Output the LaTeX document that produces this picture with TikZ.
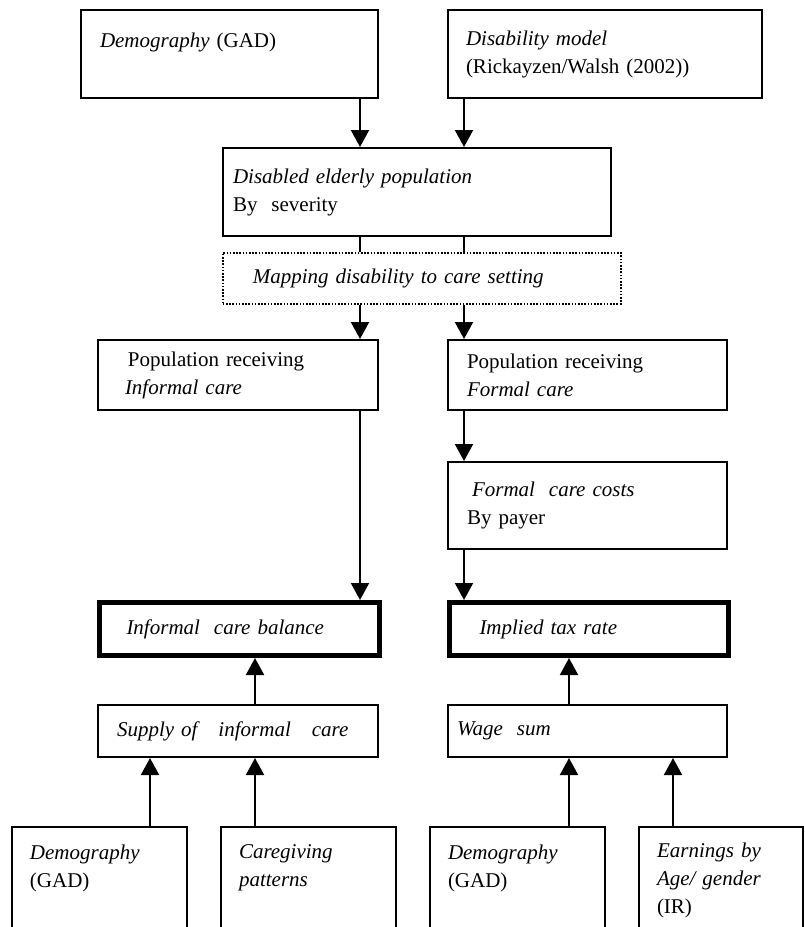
\documentclass[tikz,border=0pt]{standalone}
\usepackage{fontspec}
\setmainfont{Liberation Serif}
\usepackage{tikz}
\usetikzlibrary{positioning,calc,arrows.meta}

\begin{document}
\begin{tikzpicture}[x=0.5pt, y=-0.5pt,
        box/.style={rectangle, draw, line width=1pt, align=left, anchor=north west, inner ysep=0pt,
            font=\fontsize{10.5}{14}\selectfont},
        result/.style={box, line width=2.5pt},
        mapbox/.style={box, line width=0.8pt, dash pattern=on 0.8pt off 0.8pt},
        line/.style={draw, line width=1pt, -{Triangle[length=8.5pt, width=9pt]}},
        link/.style={draw, line width=1pt}]
        \useasboundingbox (0,0) rectangle (804,927);
        \clip (0,0) rectangle (804,927);

        % columns of the connectors
        \coordinate (cL) at (360,0);
        \coordinate (cR) at (464,0);
        \coordinate (cS) at (255,0);
        \coordinate (cW) at (569,0);
        \coordinate (cA) at (150,0);
        \coordinate (cB) at (673,0);

        \node [box, text width=129.5pt, inner xsep=9.5pt, minimum height=44pt] (demogA) at (80,9)
            {\textit{Demography} (GAD)\\ \mbox{}};
        \node [box, text width=139pt, inner xsep=9pt, minimum height=44pt] (disab) at (447,9)
            {\textit{Disability model}\\(Rickayzen/Walsh (2002))};
        \node [box, text width=184pt, inner xsep=5pt, minimum height=44pt] (disabled) at (222,147)
            {\textit{Disabled elderly population}\\By\ \ severity};
        \node [mapbox, text width=169pt, inner xsep=15pt, minimum height=25.5pt] (mapping) at (222,252)
            {\textit{Mapping disability to care setting}};
        \node [box, text width=113pt, inner xsep=13.5pt, minimum height=35pt] (popInf) at (97,339)
            {\hspace{1.5pt}Population receiving\\\textit{Informal care}};
        \node [box, text width=120.5pt, inner xsep=9.5pt, minimum height=35pt] (popFor) at (447,339)
            {Population receiving\\\textit{Formal care}};
        \node [box, text width=120.5pt, inner xsep=9.5pt, minimum height=43.5pt] (costs) at (447,461)
            {\hspace{2.5pt}\textit{Formal\ \ care costs}\\By payer};
        \node [result, text width=113pt, inner xsep=13.5pt, minimum height=26.5pt] (balInf) at (97,600)
            {\textit{Informal\ \ care balance}};
        \node [result, text width=109.5pt, inner xsep=15pt, minimum height=26.5pt] (balFor) at (447,600)
            {\textit{Implied tax rate}};
        \node [box, text width=121pt, inner xsep=9.5pt, minimum height=26pt] (supply) at (97,704)
            {\textit{Supply of\ \ \ informal\ \ \ care}};
        \node [box, text width=130.5pt, inner xsep=4.5pt, minimum height=26pt] (wage) at (447,704)
            {\textit{Wage\ \ sum}};
        \node [box, text width=69.5pt, inner xsep=9pt, minimum height=53pt] (demogB) at (11,826)
            {\textit{Demography}\\(GAD)\\ \mbox{}};
        \node [box, text width=69.5pt, inner xsep=9pt, minimum height=53pt] (careg) at (220,826)
            {\textit{Caregiving}\\\textit{patterns}\\ \mbox{}};
        \node [box, text width=69.5pt, inner xsep=9pt, minimum height=53pt] (demogC) at (429,826)
            {\textit{Demography}\\(GAD)\\ \mbox{}};
        \node [box, text width=64pt, inner xsep=9pt, minimum height=53pt] (earn) at (638,826)
            {\textit{Earnings by}\\\textit{Age/ gender}\\(IR)};

        \path [line] (demogA.south -| cL) -- (disabled.north -| cL);
        \path [line] (disab.south -| cR) -- (disabled.north -| cR);
        \path [link] (disabled.south -| cL) -- (mapping.north -| cL);
        \path [link] (disabled.south -| cR) -- (mapping.north -| cR);
        \path [line] (mapping.south -| cL) -- (popInf.north -| cL);
        \path [line] (mapping.south -| cR) -- (popFor.north -| cR);
        \path [line] (popInf.south -| cL) -- (balInf.north -| cL);
        \path [line] (popFor.south -| cR) -- (costs.north -| cR);
        \path [line] (costs.south -| cR) -- (balFor.north -| cR);
        \path [line] (supply.north -| cS) -- (balInf.south -| cS);
        \path [line] (wage.north -| cW) -- (balFor.south -| cW);
        \path [line] (demogB.north -| cA) -- (supply.south -| cA);
        \path [line] (careg.north -| cS) -- (supply.south -| cS);
        \path [line] (demogC.north -| cW) -- (wage.south -| cW);
        \path [line] (earn.north -| cB) -- (wage.south -| cB);
    \end{tikzpicture}
\end{document}
